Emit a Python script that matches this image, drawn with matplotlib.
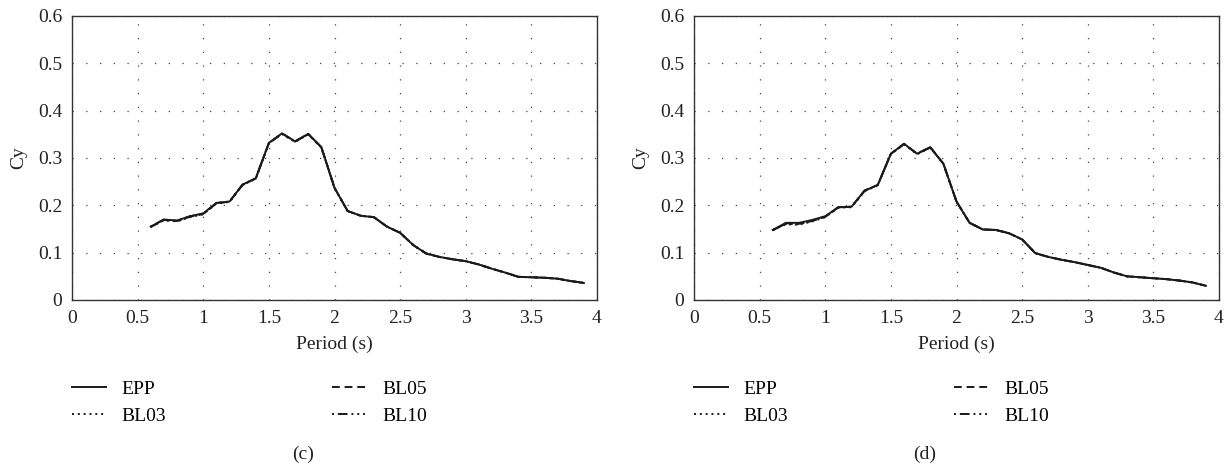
import matplotlib
matplotlib.use("Agg")
import matplotlib.pyplot as plt

plt.rcParams["font.family"] = ["Liberation Serif", "DejaVu Serif"]

# periods (s)
period = [0.6, 0.7, 0.8, 0.9, 1.0, 1.1, 1.2, 1.3, 1.4, 1.5, 1.6, 1.7,
          1.8, 1.9, 2.0, 2.1, 2.2, 2.3, 2.4, 2.5, 2.6, 2.7, 2.8, 2.9,
          3.0, 3.1, 3.2, 3.3, 3.4, 3.5, 3.6, 3.7, 3.8, 3.9]

# panel (c)
c_epp = [0.155, 0.170, 0.168, 0.177, 0.183, 0.205, 0.208, 0.244, 0.257, 0.332,
         0.352, 0.335, 0.351, 0.323, 0.237, 0.188, 0.178, 0.175, 0.155, 0.142,
         0.116, 0.098, 0.091, 0.086, 0.082, 0.075, 0.066, 0.058, 0.049, 0.048,
         0.047, 0.045, 0.040, 0.036]
c_bl03 = [0.155, 0.168, 0.166, 0.175, 0.181, 0.204, 0.207, 0.243, 0.256, 0.331,
          0.351, 0.334, 0.350, 0.322, 0.236, 0.188, 0.178, 0.175, 0.155, 0.142,
          0.116, 0.098, 0.091, 0.086, 0.082, 0.075, 0.066, 0.058, 0.049, 0.048,
          0.047, 0.045, 0.040, 0.036]
c_bl05 = [0.154, 0.169, 0.167, 0.176, 0.182, 0.204, 0.208, 0.243, 0.257, 0.331,
          0.352, 0.335, 0.350, 0.323, 0.237, 0.188, 0.178, 0.175, 0.155, 0.142,
          0.116, 0.098, 0.091, 0.086, 0.082, 0.075, 0.066, 0.058, 0.049, 0.048,
          0.047, 0.045, 0.040, 0.036]
c_bl10 = [0.155, 0.170, 0.167, 0.177, 0.182, 0.205, 0.208, 0.244, 0.257, 0.332,
          0.351, 0.335, 0.351, 0.322, 0.237, 0.188, 0.178, 0.175, 0.155, 0.142,
          0.116, 0.098, 0.091, 0.086, 0.082, 0.075, 0.066, 0.058, 0.049, 0.048,
          0.047, 0.045, 0.040, 0.036]

# panel (d)
d_epp = [0.148, 0.163, 0.163, 0.169, 0.177, 0.196, 0.197, 0.231, 0.243, 0.309,
         0.330, 0.309, 0.323, 0.288, 0.208, 0.163, 0.149, 0.148, 0.141, 0.128,
         0.099, 0.091, 0.085, 0.080, 0.074, 0.068, 0.058, 0.050, 0.048, 0.046,
         0.044, 0.041, 0.037, 0.030]
d_bl03 = [0.148, 0.160, 0.159, 0.166, 0.175, 0.195, 0.196, 0.230, 0.242, 0.308,
          0.329, 0.308, 0.322, 0.287, 0.208, 0.163, 0.149, 0.148, 0.141, 0.128,
          0.099, 0.091, 0.085, 0.080, 0.074, 0.068, 0.058, 0.050, 0.048, 0.046,
          0.044, 0.041, 0.037, 0.030]
d_bl05 = [0.147, 0.162, 0.161, 0.168, 0.176, 0.196, 0.197, 0.231, 0.243, 0.309,
          0.330, 0.309, 0.323, 0.288, 0.208, 0.163, 0.149, 0.148, 0.141, 0.128,
          0.099, 0.091, 0.085, 0.080, 0.074, 0.068, 0.058, 0.050, 0.048, 0.046,
          0.044, 0.041, 0.037, 0.030]
d_bl10 = [0.148, 0.161, 0.160, 0.167, 0.176, 0.196, 0.197, 0.231, 0.243, 0.309,
          0.329, 0.309, 0.322, 0.288, 0.208, 0.163, 0.149, 0.148, 0.141, 0.128,
          0.099, 0.091, 0.085, 0.080, 0.074, 0.068, 0.058, 0.050, 0.048, 0.046,
          0.044, 0.041, 0.037, 0.030]

labels = ["EPP", "BL03", "BL05", "BL10"]
styles = ["-", (0, (1, 2)), (0, (4, 2.5)), (0, (1, 2, 5, 2, 1, 2, 1, 2))]

panels = [("(c)", [c_epp, c_bl03, c_bl05, c_bl10]),
          ("(d)", [d_epp, d_bl03, d_bl05, d_bl10])]

fig = plt.figure(figsize=(12.3, 4.68), dpi=100)
W, H = 1230, 468
lefts = [72, 694]
fs = 14

for (tag, series), lpx in zip(panels, lefts):
    ax = fig.add_axes([lpx / W, 1 - 300 / H, 525 / W, 284 / H])
    for ys, lab, ls in zip(series, labels, styles):
        ax.plot(period, ys, color="#1a1a1a", lw=1.4, linestyle=ls, label=lab)
    ax.set_xlim(0, 4)
    ax.set_ylim(0, 0.6)
    ax.set_xticks([0, 0.5, 1, 1.5, 2, 2.5, 3, 3.5, 4])
    ax.set_xticklabels(["0", "0.5", "1", "1.5", "2", "2.5", "3", "3.5", "4"])
    ax.set_yticks([0, 0.1, 0.2, 0.3, 0.4, 0.5, 0.6])
    ax.set_yticklabels(["0", "0.1", "0.2", "0.3", "0.4", "0.5", "0.6"])
    ax.tick_params(axis="y", length=0, labelsize=fs, pad=7, colors="#222222")
    ax.tick_params(axis="x", length=0, labelsize=fs, pad=7.5, colors="#222222")
    ax.grid(True, color="#444444", linestyle=(0, (1, 10)), lw=0.9)
    for sp in ax.spines.values():
        sp.set_color("#333333")
        sp.set_linewidth(1.0)
    ax.set_xlabel("Period (s)", fontsize=fs, color="#222222", labelpad=6)
    ax.set_ylabel("Cy", fontsize=fs, color="#222222", labelpad=8)
    ax.legend(loc="upper left", bbox_to_anchor=(0, -0.283), ncol=2,
              frameon=False, fontsize=fs, handlelength=1.75, handletextpad=0.8,
              columnspacing=8.55, labelspacing=0.46, borderpad=0,
              borderaxespad=0)
    fig.text((lpx + 231) / W, 1 - 454 / H, tag, fontsize=fs, color="#222222",
             ha="center", va="center")

fig.savefig("out.png", dpi=100)
